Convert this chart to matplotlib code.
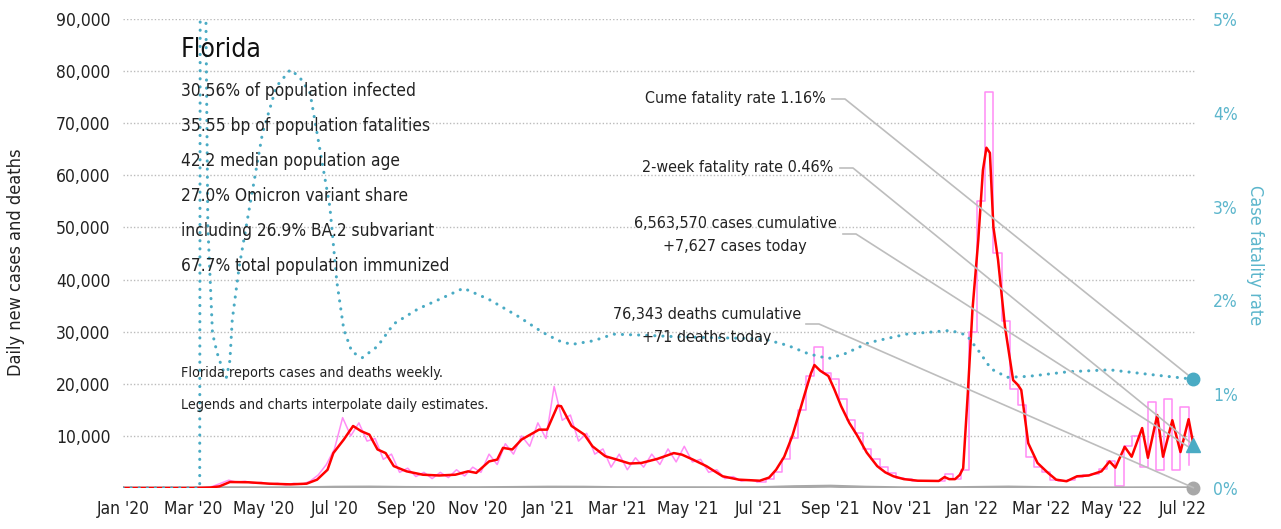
import numpy as np
import pandas as pd
import matplotlib
matplotlib.use('Agg')
import matplotlib.pyplot as plt
import matplotlib.dates as mdates
from matplotlib.lines import Line2D
from matplotlib.transforms import IdentityTransform
from matplotlib.ticker import FuncFormatter

# condensed face, closest to the narrow font of the original
plt.rcParams['font.family'] = ['DejaVu Sans']
plt.rcParams['font.stretch'] = 'condensed'

start = pd.Timestamp('2020-01-01')

# 7-day average of daily new cases: day number since Jan 1 2020, value
avg_day = [0, 60, 75, 83, 92, 108, 126, 144, 158, 167, 176, 181, 190, 198, 205, 212, 219, 226,
           233, 244, 258, 272, 286, 297, 304, 315, 322, 327, 335, 343, 358, 365, 374, 377, 386,
           397, 404, 415, 425, 436, 446, 460, 474, 481, 490, 502, 516, 530, 548, 556, 562, 569,
           576, 582, 587, 592, 595, 600, 607, 612, 618, 625, 632, 640, 649, 656, 663, 672, 684,
           702, 707, 711, 716, 720, 723, 727, 731, 736, 740, 743, 746, 749, 753, 759, 766, 770,
           773, 779, 787, 796, 803, 812, 821, 831, 842, 849, 854, 862, 868, 877, 882, 890, 895,
           903, 910, 917, 922]
avg_cases = [0, 0, 80, 320, 1150, 1100, 830, 700, 830, 1600, 3500, 6700, 9300, 11900, 10900,
             10250, 7400, 6700, 4200, 3200, 2550, 2400, 2550, 3200, 2900, 5100, 5450, 7700, 7400,
             9300, 11200, 11200, 15800, 15700, 11900, 10250, 8000, 6100, 5450, 4700, 4800, 5600,
             6700, 6400, 5500, 4200, 2250, 1600, 1400, 2000, 3500, 6000, 10000, 14500, 18300,
             22000, 23600, 22500, 21500, 19000, 15700, 12500, 10000, 6800, 4200, 3000, 2250, 1700,
             1400, 1350, 2100, 1700, 1700, 2500, 3800, 18200, 34200, 47600, 61000, 65300, 64300,
             50100, 43800, 30900, 20700, 19800, 18800, 8600, 4800, 2900, 1600, 1300, 2250, 2400,
             3200, 5100, 3900, 7900, 6000, 11500, 5800, 14000, 6000, 13000, 6900, 13200, 7300]

# daily new cases, one reading per week
weekly_cases = [0, 0, 0, 0, 0, 0, 0, 0, 0, 0,
                50, 300, 900, 1500, 1100, 1300, 900, 1100, 700, 900,
                600, 900, 700, 1300, 2500, 4500, 7500, 13500, 10000, 12500,
                9000, 9500, 5500, 6500, 3000, 3800, 2200, 3000, 1800, 3000,
                2000, 3500, 2300, 4000, 3000, 6500, 4500, 8500, 6500, 10000,
                8000, 12500, 9500, 19500, 13000, 14000, 9000, 10500, 6500, 7500,
                4000, 6500, 3500, 5800, 4000, 6500, 4500, 7500, 5000, 8000,
                5000, 5500, 3000, 3500, 1800, 2200, 1300, 1600, 1200, 1700,
                3000, 5500, 9500, 15000, 21500, 27000, 22000, 21000, 17000, 13000,
                10500, 7500, 5500, 4000, 2800, 2000, 1700, 1400, 1300, 1300,
                1300, 2600, 1800, 3500, 30000, 55000, 76000, 45000, 32000, 19000,
                16000, 6000, 4000, 3000, 1500, 1300, 1500, 2200, 2500, 2600,
                3600, 5200, 300, 8000, 10000, 4000, 16500, 3500, 17000, 3500, 15500, 4500]

# 7-day average deaths, monthly
deaths = [0, 0, 5, 50, 45, 40, 150, 180, 100, 70, 60, 100,
          160, 150, 70, 50, 50, 40, 60, 250, 350, 150, 40, 30,
          100, 180, 80, 30, 20, 30, 35, 35]

# case fatality rate (%)
cfr_day = [0, 66, 67, 71, 73, 77, 81, 85, 89, 92, 94, 100, 109, 120, 132, 144, 152, 161, 169,
           178, 184, 190, 197, 206, 219, 233, 254, 272, 293, 315, 340, 361, 375, 386, 405, 422,
           446, 481, 520, 551, 572, 590, 607, 621, 642, 674, 712, 726, 737, 747, 761, 779, 814,
           849, 884, 921]
cfr_pct = [0, 0, 12, 5.5, 2.8, 1.65, 1.44, 1.29, 1.18, 1.36, 1.79, 2.36, 3.0, 3.78, 4.28, 4.46,
           4.38, 4.21, 3.64, 3.0, 2.2, 1.69, 1.45, 1.39, 1.51, 1.75, 1.91, 2.01, 2.13, 2.01, 1.83,
           1.66, 1.57, 1.53, 1.57, 1.64, 1.63, 1.61, 1.60, 1.59, 1.52, 1.43, 1.38, 1.43, 1.55,
           1.64, 1.68, 1.63, 1.45, 1.27, 1.18, 1.19, 1.24, 1.26, 1.21, 1.16]

two_week_cfr = 0.46
cume_cfr = 1.16
last_deaths = 71

stats = ['30.56% of population infected',
         '35.55 bp of population fatalities',
         '42.2 median population age',
         '27.0% Omicron variant share',
         'including 26.9% BA.2 subvariant',
         '67.7% total population immunized']

PINK = '#ff8cf5'
RED = '#ff0000'
TEAL = '#4aabc4'
TEAL_TXT = '#5cb6cc'
GREY = '#a8a8a8'
LEAD = '#bdbdbd'
INK = '#222222'

W, H = 1281, 529
fig = plt.figure(figsize=(W / 100, H / 100), dpi=100)
ax = fig.add_axes([123 / W, 1 - 488 / H, (1195 - 123) / W, (488 - 19) / H])
ax2 = ax.twinx()


def px(x, y):
    return x / W, 1 - y / H


avg_x = start + pd.to_timedelta(avg_day, unit='D')
week_x = pd.date_range(start, periods=len(weekly_cases), freq='7D')
end_date = start + pd.Timedelta(days=921)
death_x = pd.date_range(start, '2022-07-01', freq='MS').append(pd.DatetimeIndex([end_date]))
cfr_x = start + pd.to_timedelta(cfr_day, unit='D')

# daily figures look noisy until mid 2021, then weekly steps
split = 78
ax.plot(week_x[:split + 1], weekly_cases[:split + 1], color=PINK, lw=1.1, zorder=2)
ax.plot(week_x[split:], weekly_cases[split:], color=PINK, lw=1.1, drawstyle='steps-post', zorder=2)
ax.plot(death_x, deaths, color=GREY, lw=2.2, zorder=3)
ax.plot(avg_x, avg_cases, color=RED, lw=1.8, zorder=4)
ax2.plot(cfr_x, cfr_pct, color=TEAL, lw=2.2, linestyle=(0, (0.05, 2.6)),
         dash_capstyle='round', zorder=3)

ax.set_xlim(start, start + pd.Timedelta(days=922.5))
ax.set_ylim(0, 90000)
ax2.set_ylim(0, 5)

ax.set_yticks(range(10000, 90001, 10000))
ax.yaxis.set_major_formatter(FuncFormatter(lambda v, p: f'{int(v):,}'))
ax2.set_yticks(range(0, 6))
ax2.yaxis.set_major_formatter(FuncFormatter(lambda v, p: f'{int(v)}%'))
ax.xaxis.set_major_locator(mdates.MonthLocator(bymonth=[1, 3, 5, 7, 9, 11]))
ax.xaxis.set_major_formatter(mdates.DateFormatter("%b '%y"))

ax.tick_params(axis='y', length=0, pad=9, labelsize=12.5, labelcolor=INK)
ax.tick_params(axis='x', length=0, pad=9, labelsize=12.5, labelcolor=INK)
ax2.tick_params(axis='y', length=0, pad=13, labelsize=12.5, labelcolor=TEAL_TXT)
ax.grid(axis='y', color='#bbbbbb', lw=1, linestyle=(0, (1, 1.5)))
for a in (ax, ax2):
    for s in a.spines.values():
        s.set_visible(False)

# end markers
ax.plot([end_date], [last_deaths], 'o', color=GREY, ms=9, clip_on=False, zorder=6)
ax2.plot([end_date], [two_week_cfr], '^', color=TEAL, ms=10, clip_on=False, zorder=6)
ax2.plot([end_date], [cume_cfr], 'o', color=TEAL, ms=9, clip_on=False, zorder=6)

# axis titles
fig.text(*px(16, 262), 'Daily new cases and deaths', rotation=90, ha='center', va='center',
         fontsize=13, color=INK)
fig.text(*px(1255, 255), 'Case fatality rate', rotation=270, ha='center', va='center',
         fontsize=13, color=TEAL_TXT)

# stats block
fig.text(*px(181, 50), 'Florida', fontsize=19, ha='left', va='center', color='#111111')
for i, s in enumerate(stats):
    fig.text(*px(181, 91 + 35 * i), s, fontsize=12.4, ha='left', va='center', color=INK)
fig.text(*px(181, 373), 'Florida reports cases and deaths weekly.', fontsize=10.3,
         ha='left', va='center', color=INK)
fig.text(*px(181, 405), 'Legends and charts interpolate daily estimates.', fontsize=10.3,
         ha='left', va='center', color=INK)

# labels with leader lines
fig.text(*px(826, 99), f'Cume fatality rate {cume_cfr:.2f}%', fontsize=11.5, ha='right',
         va='center', color=INK)
fig.text(*px(833, 168), f'2-week fatality rate {two_week_cfr:.2f}%', fontsize=11.5, ha='right',
         va='center', color=INK)
fig.text(*px(735, 235), '6,563,570 cases cumulative\n+7,627 cases today', fontsize=11.5,
         ha='center', va='center', multialignment='center', color=INK, linespacing=1.6)
fig.text(*px(707, 326), '76,343 deaths cumulative\n+71 deaths today', fontsize=11.5,
         ha='center', va='center', multialignment='center', color=INK, linespacing=1.6)

leaders = [((832, 99), ax2, cume_cfr),
           ((840, 168), ax2, two_week_cfr),
           ((843, 234), ax, avg_cases[-1]),
           ((806, 324), ax, last_deaths)]
for (x0, y0), a, val in leaders:
    ex, ey = a.transData.transform((mdates.date2num(end_date), val))
    line = Line2D([x0, x0 + 13, ex], [H - y0, H - y0, ey], transform=IdentityTransform(),
                  color=LEAD, lw=1.2, zorder=5, clip_on=False)
    ax2.add_line(line)

fig.savefig('out.png', dpi=100)
